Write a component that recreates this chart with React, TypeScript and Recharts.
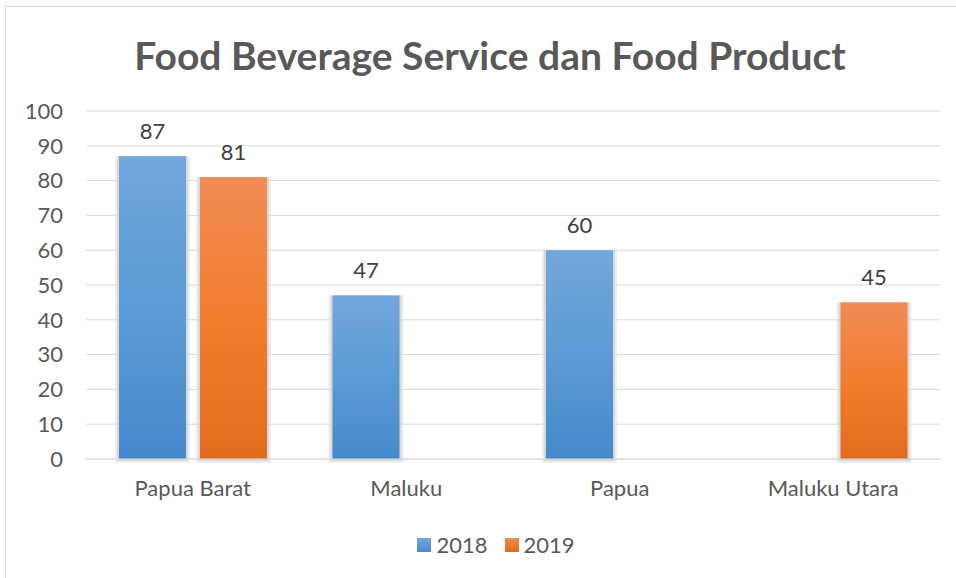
import { BarChart, Bar, XAxis, YAxis, CartesianGrid, Legend, LabelList } from "recharts";

const categories = ["Papua Barat", "Maluku", "Papua", "Maluku Utara"];
const values2018 = [87, 47, 60, null];
const values2019 = [81, null, null, 45];
const yTicks = [0, 10, 20, 30, 40, 50, 60, 70, 80, 90, 100];

const data = categories.map((name, i) => ({
  name,
  y2018: values2018[i],
  y2019: values2019[i],
}));

const FONT = "Lato, 'Open Sans', sans-serif";

function ShadowBar(props: any) {
  const { x, y, width, height, fill } = props;
  if (!height || height <= 0) return null;
  return (
    <g>
      <rect x={x - 4} y={y} width={width + 8} height={height + 4} fill="#e3e3e3" opacity={0.6} />
      <rect x={x - 2} y={y} width={width + 4} height={height + 2} fill="#cfcfcf" opacity={0.7} />
      <rect x={x} y={y} width={width} height={height} fill={fill} />
    </g>
  );
}

const swatch: Record<string, string> = {
  "2018": "linear-gradient(#72a7dc, #4689cb)",
  "2019": "linear-gradient(#f08b55, #e36b1c)",
};

function LegendContent(props: any) {
  const items = props.payload || [];
  return (
    <div style={{ display: "flex", justifyContent: "center", paddingLeft: 52, marginTop: -6, fontSize: 22, color: "#595959", fontFamily: FONT }}>
      {items.map((it: any, i: number) => (
        <div key={it.value} style={{ display: "flex", alignItems: "center", marginLeft: i ? 17 : 0 }}>
          <span style={{ width: 14, height: 14, background: swatch[it.value], marginRight: 5, display: "inline-block" }} />
          <span>{it.value}</span>
        </div>
      ))}
    </div>
  );
}

export default function App() {
  return (
    <div style={{ position: "absolute", left: 0, top: 0, width: 956, height: 578, overflow: "hidden", background: "#fff", fontFamily: FONT }}>
      <div style={{ position: "absolute", left: 5, top: 6, width: 1200, height: 1200, border: "1px solid #d9d9d9" }} />
      <div style={{ position: "absolute", left: 0, top: 32, width: 980, textAlign: "center", fontSize: 39, fontWeight: 700, color: "#595959" }}>
        Food Beverage Service dan Food Product
      </div>
      <div style={{ position: "absolute", left: 0, top: 0 }}>
        <BarChart
          width={956}
          height={578}
          data={data}
          margin={{ top: 111, right: 16, left: 0, bottom: 20 }}
          barCategoryGap={33}
          barGap={14}
        >
          <defs>
            <linearGradient id="g2018" x1="0" y1="0" x2="0" y2="1">
              <stop offset="0%" stopColor="#72a7dc" />
              <stop offset="50%" stopColor="#5b9bd5" />
              <stop offset="100%" stopColor="#4689cb" />
            </linearGradient>
            <linearGradient id="g2019" x1="0" y1="0" x2="0" y2="1">
              <stop offset="0%" stopColor="#f08b55" />
              <stop offset="50%" stopColor="#f27e2f" />
              <stop offset="100%" stopColor="#e36b1c" />
            </linearGradient>
          </defs>
          <CartesianGrid vertical={false} stroke="#d9d9d9" />
          <XAxis
            dataKey="name"
            axisLine={{ stroke: "#d9d9d9" }}
            tickLine={false}
            tickSize={0}
            tickMargin={21}
            height={78}
            tick={{ fontSize: 22, fill: "#595959", fontFamily: FONT }}
          />
          <YAxis
            domain={[0, 100]}
            ticks={yTicks}
            axisLine={false}
            tickLine={false}
            tickSize={0}
            tickMargin={23}
            width={86}
            tick={{ fontSize: 22, fill: "#595959", fontFamily: FONT }}
          />
          <Legend content={LegendContent} />
          <Bar dataKey="y2018" name="2018" fill="url(#g2018)" legendType="square" shape={ShadowBar} isAnimationActive={false}>
            <LabelList dataKey="y2018" position="top" offset={17} style={{ fontSize: 22, fill: "#404040", fontFamily: FONT }} />
          </Bar>
          <Bar dataKey="y2019" name="2019" fill="url(#g2019)" legendType="square" shape={ShadowBar} isAnimationActive={false}>
            <LabelList dataKey="y2019" position="top" offset={17} style={{ fontSize: 22, fill: "#404040", fontFamily: FONT }} />
          </Bar>
        </BarChart>
      </div>
    </div>
  );
}
